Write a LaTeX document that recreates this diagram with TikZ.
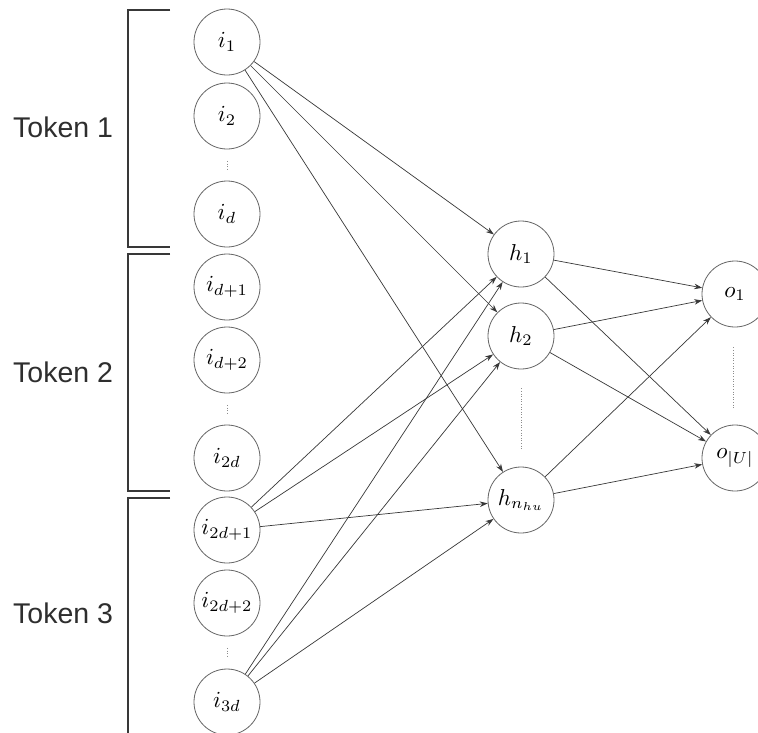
\documentclass[tikz,border=0pt]{standalone}
\usepackage{graphicx}
\usepackage{fontspec}
\newfontfamily\labelfont{Liberation Sans}
\usetikzlibrary{arrows.meta}
% unit labels: math set at 10pt and enlarged
\newcommand\unitlbl[1]{\scalebox{2.3}{$#1$}}

\begin{document}
\begin{tikzpicture}[x=1pt, y=-1pt,
  unit/.style={circle, draw=black!60, line width=0.8pt, minimum size=66pt,
               inner sep=0pt},
  link/.style={draw=black!78, line width=0.7pt,
               -{Stealth[length=8pt, width=5.5pt]}},
  gap/.style={draw=black!45, line width=0.6pt, dotted},
  brace/.style={draw=black!78, line width=2pt},
  token/.style={anchor=base west, inner sep=0pt, text=black!82,
                font=\labelfont\fontsize{28.5}{32}\selectfont}]

\clip (0,0) rectangle (758,732);
\fill[white] (0,0) rectangle (758,732);

% input layer
\node[unit] (i1)   at (227,42)  {\unitlbl{i_1}};
\node[unit] (i2)   at (227,116) {\unitlbl{i_2}};
\node[unit] (id)   at (227,214) {\unitlbl{i_d}};
\node[unit] (id1)  at (227,287) {\unitlbl{i_{d+1}}};
\node[unit] (id2)  at (227,360) {\unitlbl{i_{d+2}}};
\node[unit] (i2d)  at (227,458) {\unitlbl{i_{2d}}};
\node[unit] (i2d1) at (227,530) {\unitlbl{i_{2d+1}}};
\node[unit] (i2d2) at (227,603) {\unitlbl{i_{2d+2}}};
\node[unit] (i3d)  at (227,702) {\unitlbl{i_{3d}}};

% hidden layer
\node[unit] (h1) at (521,254) {\unitlbl{h_1}};
\node[unit] (h2) at (521,336) {\unitlbl{h_2}};
\node[unit] (hn) at (521,500) {\unitlbl{h_{n_{hu}}}};

% output layer
\node[unit] (o1) at (735,294) {\unitlbl{o_1}};
\node[unit] (oU) at (735,458) {\unitlbl{o_{|U|}}};

% vertical ellipses
\draw[gap] ([yshift=-11.5pt]i2.south)   -- ([yshift=11.5pt]id.north);
\draw[gap] ([yshift=-11.5pt]id2.south)  -- ([yshift=11.5pt]i2d.north);
\draw[gap] ([yshift=-11.5pt]i2d2.south) -- ([yshift=11.5pt]i3d.north);
\draw[gap] ([yshift=-19pt]h2.south) -- ([yshift=17pt]hn.north);
\draw[gap] ([yshift=-20pt,xshift=-2pt]o1.south) -- ([yshift=15pt,xshift=-2pt]oU.north);

% input -> hidden
\foreach \s in {i1, i2d1, i3d}
  \foreach \t in {h1, h2, hn}
    \draw[link] (\s) -- (\t);

% hidden -> output
\foreach \s in {h1, h2, hn}
  \foreach \t in {o1, oU}
    \draw[link] (\s) -- (\t);

% token brackets
\draw[brace] (170,10)  -- (128,10)  -- (128,247) -- (170,247);
\draw[brace] (170,254) -- (128,254) -- (128,491) -- (170,491);
\draw[brace] (170,498) -- (128,498) -- (128,745);

\node[token] (t1) at (13,137) {Token 1};
\node[token] (t2) at (13,382) {Token 2};
\node[token] (t3) at (13,623) {Token 3};

\end{tikzpicture}
\end{document}
